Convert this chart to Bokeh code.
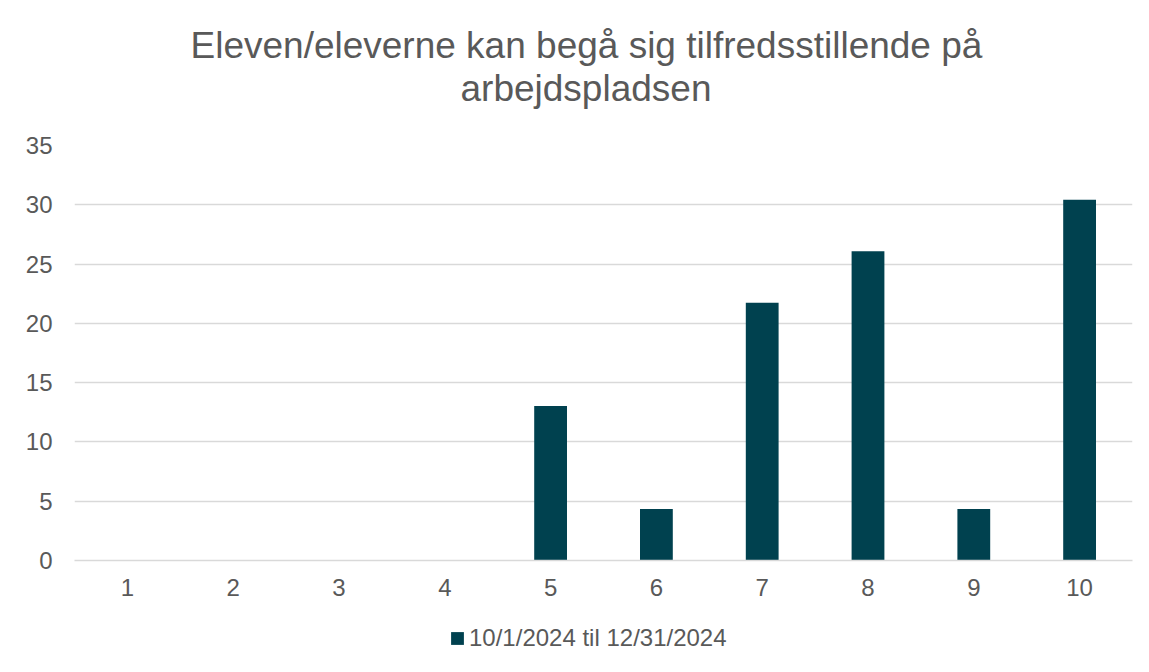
from bokeh.plotting import figure
from bokeh.layouts import column
from bokeh.models import ColumnDataSource, Range1d, FactorRange, Legend, LegendItem, Title, SingleIntervalTicker
from bokeh.embed import file_html
from bokeh.resources import INLINE

categories = ["1", "2", "3", "4", "5", "6", "7", "8", "9", "10"]
values = [0, 0, 0, 0, 13.04, 4.35, 21.74, 26.09, 4.35, 30.43]
series_name = "10/1/2024 til 12/31/2024"
title_lines = ["Eleven/eleverne kan begå sig tilfredsstillende på", "arbejdspladsen"]

FONT = "Liberation Sans"
GRAY = "#595959"
BAR = "#00414F"
GRID = "#D9D9D9"

src = ColumnDataSource(data=dict(cat=categories, val=values))

# ---- main chart ----
p = figure(width=1149, height=604, x_range=FactorRange(*categories), y_range=Range1d(0, 35),
           output_backend="svg", toolbar_location=None,
           min_border_left=74, min_border_right=17, min_border_top=145, min_border_bottom=44)
p.outline_line_color = None
p.background_fill_color = "white"
p.border_fill_color = "white"

p.vbar(x="cat", top="val", width=0.31, source=src, fill_color=BAR, line_color=None)

p.xgrid.grid_line_color = None
p.ygrid.grid_line_color = GRID
p.ygrid.grid_line_width = 1.5
p.yaxis.ticker = SingleIntervalTicker(interval=5)

for ax in (p.xaxis[0], p.yaxis[0]):
    ax.axis_line_color = None
    ax.major_tick_line_color = None
    ax.minor_tick_line_color = None
    ax.major_label_text_font = FONT
    ax.major_label_text_font_size = "24px"
    ax.major_label_text_color = GRAY
p.yaxis.major_label_standoff = 16
p.xaxis.major_label_standoff = 12
p.xaxis.axis_line_color = GRID
p.xaxis.axis_line_width = 1.5

# spacer between frame and title lines
p.add_layout(Title(text=" ", standoff=24, text_font=FONT, text_font_size="10px"), "above")
p.add_layout(Title(text=title_lines[1], align="left", offset=386, standoff=0, text_font=FONT,
                   text_font_size="37px", text_color=GRAY, text_font_style="normal"), "above")
p.add_layout(Title(text=title_lines[0], align="left", offset=116, standoff=0, text_font=FONT,
                   text_font_size="37px", text_color=GRAY, text_font_style="normal"), "above")

# ---- legend strip below the chart ----
q = figure(width=1149, height=68, x_range=Range1d(0, 1), y_range=Range1d(0, 1),
           output_backend="svg", toolbar_location=None, x_axis_location=None, y_axis_location=None,
           min_border_left=0, min_border_right=0, min_border_top=0, min_border_bottom=0)
q.outline_line_color = None
q.grid.visible = False
q.border_fill_color = "white"
q.background_fill_color = "white"
# legend proxy glyph with zero height, so only its legend swatch shows
legend_src = ColumnDataSource(data=dict(x=[0.5], top=[0.0]))
lr = q.vbar(x="x", top="top", width=0.31, source=legend_src, fill_color=BAR, line_color=None)

legend = Legend(items=[LegendItem(label=series_name, renderers=[lr])], orientation="horizontal",
                location=(375, 20), label_text_font=FONT, label_text_font_size="24px",
                label_text_color=GRAY, glyph_width=16, glyph_height=16, label_standoff=4,
                border_line_color=None, background_fill_alpha=0, margin=0, padding=0)
q.add_layout(legend, "center")

layout = column(p, q, spacing=0)
open("out.html", "w").write(file_html(layout, INLINE))
